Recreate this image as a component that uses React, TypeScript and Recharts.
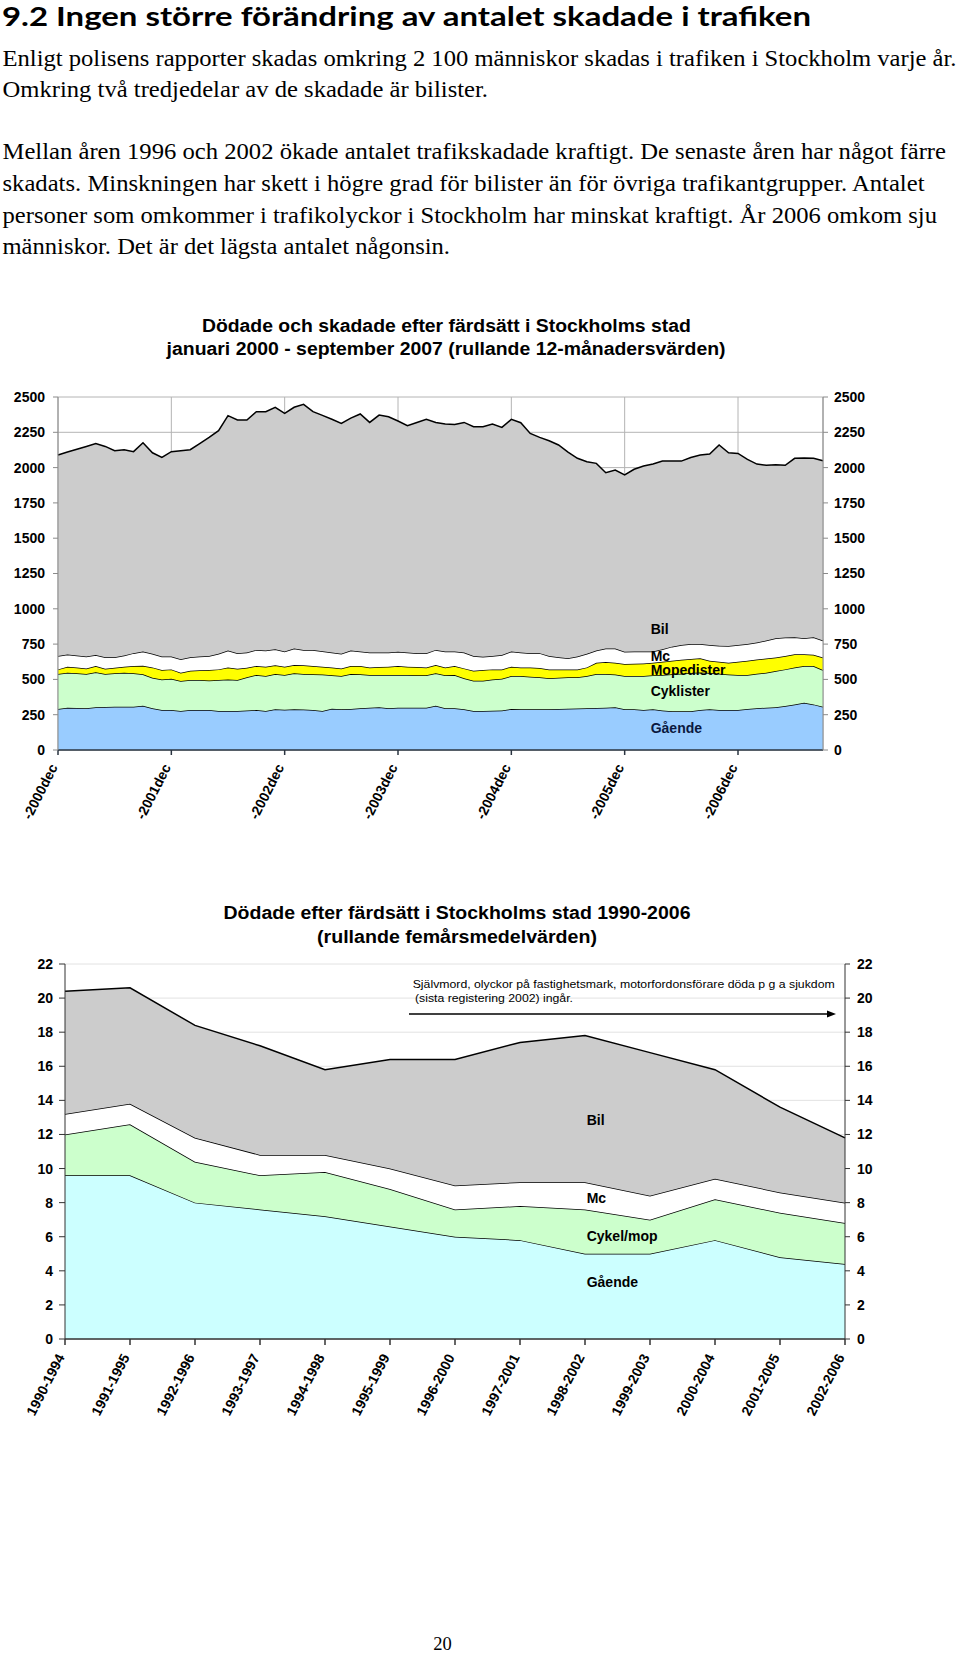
import React from "react";
import { AreaChart, Area, XAxis, YAxis, CartesianGrid } from "recharts";

// ---- Chart 1: rolling 12-month values, Dec 2000 .. Sep 2007 (82 points) ----
const tickIdx1 = [0, 12, 24, 36, 48, 60, 72];
const tickLabels1 = ["-2000dec", "-2001dec", "-2002dec", "-2003dec", "-2004dec", "-2005dec", "-2006dec"];
const yTicks1 = [0, 250, 500, 750, 1000, 1250, 1500, 1750, 2000, 2250, 2500];

const gaende1 = [
  290, 300, 298, 295, 302, 305, 307, 307, 307, 314, 295, 283, 283, 276, 283, 284, 283, 276, 276, 276,
  280, 283, 276, 288, 285, 288, 286, 283, 276, 292, 288, 290, 295, 300, 302, 295, 300, 300, 300, 300,
  314, 295, 295, 288, 276, 276, 278, 279, 290, 289, 288, 288, 288, 290, 292, 294, 295, 298, 300, 302,
  288, 288, 283, 288, 279, 274, 274, 274, 283, 288, 283, 283, 283, 290, 295, 300, 302, 311, 323, 335,
  323, 307,
];
const cyklister1 = [
  248, 247, 245, 243, 248, 233, 236, 240, 236, 222, 217, 217, 222, 213, 213, 212, 210, 220, 224, 220,
  235, 248, 248, 250, 246, 255, 252, 253, 258, 238, 236, 248, 241, 231, 229, 236, 232, 231, 230, 229,
  229, 234, 236, 220, 215, 215, 222, 226, 234, 235, 231, 227, 220, 222, 223, 221, 229, 240, 238, 232,
  236, 236, 241, 241, 252, 262, 266, 271, 265, 257, 257, 252, 249, 241, 245, 247, 258, 260, 262, 260,
  272, 259,
];
const mopedister1 = [
  33, 43, 42, 40, 45, 38, 40, 43, 52, 61, 73, 66, 66, 58, 66, 68, 73, 75, 85, 80,
  68, 64, 66, 62, 59, 59, 62, 59, 56, 55, 54, 57, 59, 54, 57, 59, 63, 59, 58, 56,
  59, 56, 64, 70, 71, 75, 71, 66, 66, 61, 66, 65, 63, 59, 56, 56, 61, 80, 85, 84,
  85, 87, 89, 89, 94, 96, 100, 100, 102, 87, 85, 83, 93, 101, 101, 101, 95, 94, 93, 83,
  79, 89,
];
const mc1 = [
  95, 86, 85, 84, 78, 81, 74, 80, 91, 100, 96, 96, 91, 96, 95, 98, 100, 110, 119, 110,
  107, 114, 114, 113, 107, 116, 109, 114, 110, 105, 103, 109, 102, 105, 102, 100, 100, 100, 98, 101,
  107, 112, 102, 112, 104, 95, 95, 102, 107, 105, 101, 106, 95, 86, 79, 91, 96, 86, 95, 100,
  86, 86, 84, 79, 88, 100, 104, 106, 101, 112, 114, 119, 119, 119, 120, 127, 136, 131, 120, 113,
  124, 120,
];
const bil1 = [
  1423, 1434, 1460, 1488, 1498, 1493, 1463, 1457, 1427, 1479, 1424, 1410, 1451, 1477, 1470, 1508, 1548, 1581, 1664, 1651,
  1647, 1687, 1692, 1714, 1687, 1709, 1739, 1687, 1670, 1652, 1632, 1646, 1683, 1630, 1682, 1670, 1635, 1607, 1634, 1656,
  1611, 1611, 1609, 1630, 1624, 1629, 1642, 1612, 1645, 1628, 1556, 1528, 1524, 1503, 1460, 1404, 1361, 1326, 1246, 1265,
  1253, 1291, 1314, 1328, 1333, 1314, 1302, 1321, 1338, 1352, 1421, 1368, 1356, 1307, 1264, 1241, 1230, 1220, 1268, 1277,
  1268, 1274,
];

// ---- Chart 2: deaths, rolling five-year averages ----
const periods2 = [
  "1990-1994", "1991-1995", "1992-1996", "1993-1997", "1994-1998", "1995-1999", "1996-2000",
  "1997-2001", "1998-2002", "1999-2003", "2000-2004", "2001-2005", "2002-2006",
];
const yTicks2 = [0, 2, 4, 6, 8, 10, 12, 14, 16, 18, 20, 22];
const gaende2 = [9.6, 9.6, 8.0, 7.6, 7.2, 6.6, 6.0, 5.8, 5.0, 5.0, 5.8, 4.8, 4.4];
const cykelmop2 = [2.4, 3.0, 2.4, 2.0, 2.6, 2.2, 1.6, 2.0, 2.6, 2.0, 2.4, 2.6, 2.4];
const mc2 = [1.2, 1.2, 1.4, 1.2, 1.0, 1.2, 1.4, 1.4, 1.6, 1.4, 1.2, 1.2, 1.2];
const bil2 = [7.2, 6.8, 6.6, 6.4, 5.0, 6.4, 7.4, 8.2, 8.6, 8.4, 6.4, 5.0, 3.8];

const rows1 = gaende1.map((v, i) => ({
  m: i,
  gaende: v,
  cyklister: cyklister1[i],
  mopedister: mopedister1[i],
  mc: mc1[i],
  bil: bil1[i],
}));

const rows2 = periods2.map((p, i) => ({
  period: p,
  gaende: gaende2[i],
  cykelmop: cykelmop2[i],
  mc: mc2[i],
  bil: bil2[i],
}));

const SANS = "'Liberation Sans', Arial, sans-serif";
const SERIF = "'Liberation Serif', 'Times New Roman', serif";
const tickFont = { fontFamily: SANS, fontSize: 14, fontWeight: 700, fill: "#000" };

function AngledTick(props: any) {
  const { x, y, label } = props;
  return (
    <text
      x={x}
      y={y + 12}
      transform={`rotate(-63, ${x}, ${y + 12})`}
      textAnchor="end"
      style={tickFont}
    >
      {label}
    </text>
  );
}

const bodyLines = [
  { t: "Enligt polisens rapporter skadas omkring 2 100 människor skadas i trafiken i Stockholm varje år.", y: 65.5, w: 954 },
  { t: "Omkring två tredjedelar av de skadade är bilister.", y: 96.8, w: 485.5 },
  { t: "Mellan åren 1996 och 2002 ökade antalet trafikskadade kraftigt. De senaste åren har något färre", y: 158.5, w: 943.5 },
  { t: "skadats. Minskningen har skett i högre grad för bilister än för övriga trafikantgrupper. Antalet", y: 190.5, w: 922 },
  { t: "personer som omkommer i trafikolyckor i Stockholm har minskat kraftigt. År 2006 omkom sju", y: 222.5, w: 934.5 },
  { t: "människor. Det är det lägsta antalet någonsin.", y: 254, w: 447.5 },
];

export default function App() {
  const stroke = "#000";
  return (
    <div style={{ position: "absolute", left: 0, top: 0, width: 960, height: 1653, background: "#fff" }}>
      {/* chart 1 */}
      <div style={{ position: "absolute", left: 0, top: 380 }}>
        <AreaChart width={960} height={460} data={rows1} margin={{ top: 17, right: 0, bottom: 0, left: 0 }}>
          <CartesianGrid stroke="#b4b4b4" strokeWidth={1} />
          <XAxis
            dataKey="m"
            type="number"
            domain={[0, 81]}
            ticks={tickIdx1}
            height={90}
            tickSize={5}
            tickMargin={0}
            interval={0}
            stroke="#2a3440"
            strokeWidth={1.5}
            tick={(p: any) => <AngledTick {...p} label={tickLabels1[tickIdx1.indexOf(p.payload.value)]} />}
          />
          <YAxis
            domain={[0, 2500]}
            ticks={yTicks1}
            width={58}
            tickSize={5}
            tickMargin={8}
            stroke="#8a8a8a"
            tick={tickFont}
            interval={0}
          />
          <YAxis
            yAxisId="right"
            orientation="right"
            type="number"
            domain={[0, 2500]}
            allowDataOverflow
            ticks={yTicks1}
            width={137}
            tickSize={5}
            tickMargin={6}
            stroke="#8a8a8a"
            tick={tickFont}
            interval={0}
          />
          <Area type="linear" dataKey="gaende" stackId="1" fill="#99ccff" fillOpacity={1} stroke={stroke} strokeWidth={1.5} isAnimationActive={false} />
          <Area type="linear" dataKey="cyklister" stackId="1" fill="#ccffcc" fillOpacity={1} stroke={stroke} strokeWidth={1.5} isAnimationActive={false} />
          <Area type="linear" dataKey="mopedister" stackId="1" fill="#ffff00" fillOpacity={1} stroke={stroke} strokeWidth={1.5} isAnimationActive={false} />
          <Area type="linear" dataKey="mc" stackId="1" fill="#ffffff" fillOpacity={1} stroke={stroke} strokeWidth={1.5} isAnimationActive={false} />
          <Area type="linear" dataKey="bil" stackId="1" fill="#cccccc" fillOpacity={1} stroke={stroke} strokeWidth={1.5} isAnimationActive={false} />
        </AreaChart>
      </div>

      {/* chart 2 */}
      <div style={{ position: "absolute", left: 0, top: 950 }}>
        <AreaChart width={960} height={480} data={rows2} margin={{ top: 14, right: 0, bottom: 0, left: 0 }}>
          <CartesianGrid stroke="#e2e2e2" vertical={false} />
          <XAxis
            dataKey="period"
            height={91}
            tickSize={6}
            tickMargin={0}
            interval={0}
            stroke="#333"
            strokeWidth={1.5}
            tick={(p: any) => <AngledTick {...p} label={p.payload.value} />}
          />
          <YAxis
            domain={[0, 22]}
            ticks={yTicks2}
            width={65}
            tickSize={6}
            tickMargin={6}
            stroke="#333"
            tick={tickFont}
            interval={0}
          />
          <YAxis
            yAxisId="right"
            orientation="right"
            type="number"
            domain={[0, 22]}
            allowDataOverflow
            ticks={yTicks2}
            width={115}
            tickSize={5}
            tickMargin={7}
            stroke="#333"
            tick={tickFont}
            interval={0}
          />
          <Area type="linear" dataKey="gaende" stackId="1" fill="#ccffff" fillOpacity={1} stroke={stroke} strokeWidth={1.5} isAnimationActive={false} />
          <Area type="linear" dataKey="cykelmop" stackId="1" fill="#ccffcc" fillOpacity={1} stroke={stroke} strokeWidth={1.5} isAnimationActive={false} />
          <Area type="linear" dataKey="mc" stackId="1" fill="#ffffff" fillOpacity={1} stroke={stroke} strokeWidth={1.5} isAnimationActive={false} />
          <Area type="linear" dataKey="bil" stackId="1" fill="#cccccc" fillOpacity={1} stroke={stroke} strokeWidth={1.5} isAnimationActive={false} />
        </AreaChart>
      </div>

      {/* page text, titles and annotations */}
      <svg width={960} height={1653} style={{ position: "absolute", left: 0, top: 0, pointerEvents: "none" }}>
        <text x={2} y={26} textLength={809} lengthAdjust="spacingAndGlyphs"
          style={{ fontFamily: "Lato, 'Open Sans', sans-serif", fontWeight: 700, fontSize: 26 }}>
          9.2 Ingen större förändring av antalet skadade i trafiken
        </text>
        {bodyLines.map((l) => (
          <text key={l.y} x={2.5} y={l.y} textLength={l.w} lengthAdjust="spacingAndGlyphs"
            style={{ fontFamily: SERIF, fontSize: 23 }}>
            {l.t}
          </text>
        ))}

        <g style={{ fontFamily: SANS, fontWeight: 700, fontSize: 17.5 }}>
          <text x={446.4} y={331.5} textAnchor="middle" textLength={489} lengthAdjust="spacingAndGlyphs">
            Dödade och skadade efter färdsätt i Stockholms stad
          </text>
          <text x={446.1} y={355} textAnchor="middle" textLength={559} lengthAdjust="spacingAndGlyphs">
            januari 2000 - september 2007 (rullande 12-månadersvärden)
          </text>
          <text x={457} y={919} textAnchor="middle" textLength={467} lengthAdjust="spacingAndGlyphs">
            Dödade efter färdsätt i Stockholms stad 1990-2006
          </text>
          <text x={457} y={942.5} textAnchor="middle" textLength={280} lengthAdjust="spacingAndGlyphs">
            (rullande femårsmedelvärden)
          </text>
        </g>

        <g style={{ fontFamily: SANS, fontWeight: 700, fontSize: 14 }}>
          <text x={650.7} y={634}>Bil</text>
          <text x={650.7} y={660.7}>Mc</text>
          <text x={650.7} y={675}>Mopedister</text>
          <text x={650.7} y={696}>Cyklister</text>
          <text x={650.7} y={733} fill="#0a1840">Gående</text>

          <text x={586.7} y={1125}>Bil</text>
          <text x={586.7} y={1202.7}>Mc</text>
          <text x={586.7} y={1240.7}>Cykel/mop</text>
          <text x={586.7} y={1287}>Gående</text>
        </g>

        <g style={{ fontFamily: SANS, fontSize: 11.5 }}>
          <text x={412.7} y={987.7} textLength={422} lengthAdjust="spacingAndGlyphs">
            Självmord, olyckor på fastighetsmark, motorfordonsförare döda p g a sjukdom
          </text>
          <text x={415} y={1001.7} textLength={158} lengthAdjust="spacingAndGlyphs">
            (sista registering 2002) ingår.
          </text>
        </g>
        <line x1={409} y1={1014} x2={829} y2={1014} stroke="#000" strokeWidth={1.5} />
        <polygon points="836,1014 827,1010.5 827,1017.5" fill="#000" />

        <text x={442.5} y={1649.5} textAnchor="middle" style={{ fontFamily: SERIF, fontSize: 18.5 }}>
          20
        </text>
      </svg>
    </div>
  );
}
